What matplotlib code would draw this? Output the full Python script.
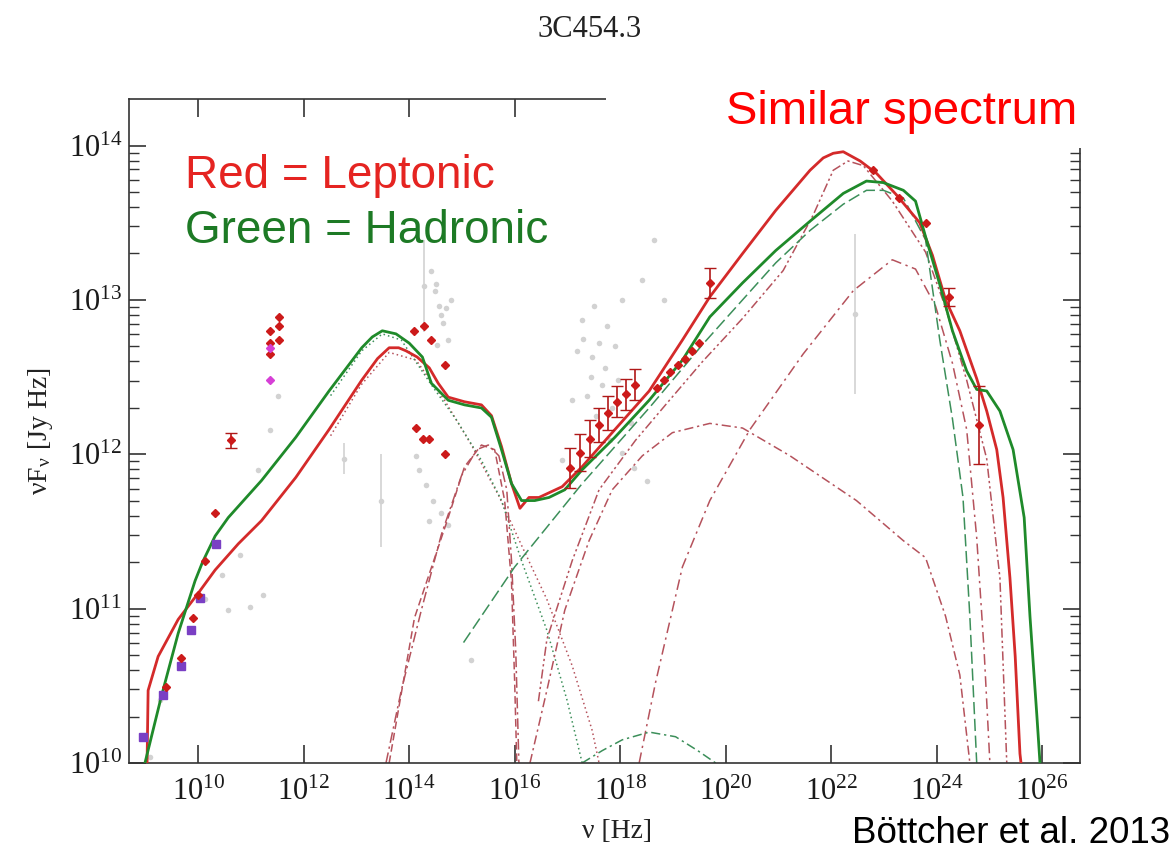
import matplotlib
matplotlib.use("Agg")
import matplotlib.pyplot as plt
import numpy as np
from matplotlib.ticker import FixedLocator, LogLocator, LogFormatterSciNotation, NullFormatter, NullLocator
from matplotlib.patches import Rectangle

plt.rcParams['font.family'] = ['Liberation Serif', 'DejaVu Serif']
plt.rcParams['mathtext.fontset'] = 'stix'

# --- data: log10(nu [Hz]) and log10(nuFnu [Jy Hz]) ---
# total model curves
lep_lx = [9.03, 9.05, 9.24, 9.62, 10.00, 10.32, 10.76, 11.20, 11.85, 12.48, 13.10, 13.40, 13.62,
          13.80, 13.94, 14.15, 14.38, 14.55, 14.74, 15.05, 15.37, 15.56, 15.75, 15.94, 16.10, 16.27,
          16.46, 16.90, 17.28, 17.90, 18.55, 19.18, 19.70, 20.32, 20.95, 21.60, 21.85, 22.04, 22.23,
          22.55, 22.86, 23.24, 23.68, 23.92, 24.17, 24.44, 24.76, 24.95, 25.14, 25.26, 25.39, 25.49,
          25.58, 25.60]
lep_ly = [10.00, 10.47, 10.69, 10.93, 11.10, 11.25, 11.42, 11.57, 11.85, 12.16, 12.48, 12.62, 12.69,
          12.69, 12.67, 12.63, 12.56, 12.46, 12.37, 12.34, 12.32, 12.25, 12.05, 11.81, 11.65, 11.72,
          11.72, 11.79, 11.92, 12.16, 12.41, 12.74, 13.02, 13.30, 13.58, 13.84, 13.92, 13.95, 13.96,
          13.90, 13.82, 13.68, 13.50, 13.29, 13.00, 12.80, 12.49, 12.28, 12.03, 11.72, 11.20, 10.69,
          10.06, 10.00]

had_lx = [8.99, 9.30, 9.62, 9.94, 10.08, 10.32, 10.57, 11.20, 11.85, 12.48, 13.10, 13.30, 13.49,
          13.75, 14.00, 14.25, 14.42, 14.74, 15.05, 15.37, 15.56, 15.75, 15.94, 16.13, 16.38, 16.65,
          16.95, 17.28, 17.90, 18.55, 19.18, 19.70, 20.32, 20.95, 21.60, 22.23, 22.67, 22.99, 23.37,
          23.60, 23.79, 24.06, 24.30, 24.57, 24.76, 24.95, 25.20, 25.45, 25.66, 25.77, 25.90, 25.96]
had_ly = [10.00, 10.43, 10.84, 11.18, 11.30, 11.47, 11.59, 11.83, 12.11, 12.41, 12.69, 12.76, 12.80,
          12.78, 12.72, 12.63, 12.46, 12.35, 12.32, 12.30, 12.24, 12.03, 11.81, 11.70, 11.70, 11.72,
          11.77, 11.90, 12.11, 12.35, 12.61, 12.89, 13.11, 13.32, 13.51, 13.69, 13.77, 13.76, 13.71,
          13.64, 13.41, 13.10, 12.80, 12.54, 12.42, 12.41, 12.28, 12.03, 11.59, 10.95, 10.31, 10.00]

# leptonic components
lsync_lx = [12.51, 13.09, 13.62, 14.13, 14.67, 15.18, 15.70, 16.13, 16.61, 17.09, 17.47, 17.60]
lsync_ly = [12.12, 12.45, 12.66, 12.61, 12.35, 12.06, 11.73, 11.41, 11.06, 10.63, 10.21, 10.00]
disk1_lx = [13.56, 13.85, 14.23, 14.61, 14.99, 15.28, 15.50, 15.70, 15.85, 15.94, 16.02, 16.08]
disk1_ly = [10.00, 10.47, 10.99, 11.48, 11.86, 12.03, 12.06, 11.99, 11.77, 11.31, 10.73, 10.00]
disk2_lx = [13.62, 14.10, 14.74, 15.05, 15.37, 15.62, 15.81, 15.94, 16.00, 16.04]
disk2_ly = [10.00, 10.94, 11.59, 11.92, 12.06, 12.03, 11.70, 11.17, 10.52, 10.00]
ssc_lx = [16.29, 16.61, 16.95, 17.41, 17.85, 18.42, 18.99, 19.70, 20.32, 21.22, 22.48, 23.37,
          23.79, 24.17, 24.44, 24.63]
ssc_ly = [10.00, 10.47, 10.99, 11.44, 11.77, 11.99, 12.14, 12.20, 12.17, 11.99, 11.70, 11.44,
          11.33, 10.95, 10.57, 10.00]
ecd_lx = [18.36, 18.67, 19.18, 19.70, 20.46, 21.47, 22.42, 23.16, 23.60, 23.98, 24.30, 24.57,
          24.76, 24.90, 25.01]
ecd_ly = [10.00, 10.52, 11.27, 11.70, 12.16, 12.65, 13.06, 13.26, 13.20, 12.96, 12.59, 12.16,
          11.46, 10.73, 10.00]
ecb_lx = [16.45, 16.61, 17.09, 17.60, 18.29, 18.86, 19.56, 20.32, 21.09, 21.66, 22.04, 22.32,
          22.61, 23.16, 23.79, 24.17, 24.57, 24.95, 25.20, 25.33]
ecb_ly = [10.40, 10.80, 11.31, 11.77, 12.09, 12.32, 12.60, 12.88, 13.19, 13.55, 13.84, 13.90,
          13.87, 13.64, 13.31, 12.95, 12.48, 11.97, 11.20, 10.00]

# hadronic components
hsync_lx = [12.51, 13.10, 13.49, 13.85, 14.42, 14.90, 15.37, 15.75, 16.13, 16.61, 16.99, 17.28]
hsync_ly = [12.38, 12.67, 12.78, 12.74, 12.45, 12.22, 11.96, 11.70, 11.31, 10.86, 10.41, 10.00]
psync_lx = [15.03, 16.00, 17.28, 18.55, 19.56, 20.32, 20.95, 21.60, 22.23, 22.67, 22.99, 23.37,
            23.79, 24.06, 24.30, 24.50, 24.63, 24.76]
psync_ly = [10.78, 11.27, 11.81, 12.30, 12.71, 13.00, 13.24, 13.45, 13.62, 13.71, 13.71, 13.66,
            13.39, 12.74, 12.23, 11.72, 10.95, 10.00]
hbump_lx = [17.28, 17.66, 18.04, 18.55, 19.05, 19.47, 19.81]
hbump_ly = [10.00, 10.08, 10.15, 10.20, 10.17, 10.08, 10.00]

# observed data
red_lx = [9.39, 9.68, 9.90, 10.00, 10.13, 10.32, 11.37, 11.37, 11.37, 11.54, 11.54, 11.54,
          14.10, 14.29, 14.42, 14.67, 14.13, 14.27, 14.38, 14.67,
          18.70, 18.84, 18.95, 19.09, 19.22, 19.37, 19.50, 22.80, 23.28, 23.79]
red_ly = [10.49, 10.68, 10.94, 11.09, 11.31, 11.62, 12.80, 12.72, 12.65, 12.89, 12.83, 12.74,
          12.80, 12.83, 12.74, 12.58, 12.17, 12.10, 12.10, 12.00,
          12.43, 12.48, 12.53, 12.58, 12.62, 12.67, 12.72, 13.84, 13.66, 13.50]
rerr_lx = [10.63, 17.05, 17.24, 17.43, 17.60, 17.77, 17.94, 18.11, 18.29, 19.70, 24.23, 24.80]
rerr_ly = [12.09, 11.91, 12.01, 12.10, 12.19, 12.27, 12.34, 12.39, 12.45, 13.11, 13.02, 12.19]
rerr_dy = [0.05, 0.13, 0.12, 0.12, 0.11, 0.11, 0.10, 0.10, 0.10, 0.10, 0.06, 0.25]
purple_lx = [8.95, 9.33, 9.68, 9.87, 10.04, 10.34]
purple_ly = [10.17, 10.44, 10.63, 10.86, 11.07, 11.42]
magenta_lx = [11.37, 11.37]
magenta_ly = [12.69, 12.48]

gray_lx = [9.09, 9.28, 10.13, 10.46, 10.80, 10.57, 10.99, 11.22, 11.14, 11.37, 11.52,
           14.42, 14.48, 14.57, 14.65, 14.74, 14.53, 14.80, 14.19, 14.32, 14.46, 14.61, 14.74,
           14.38, 14.13, 17.28, 17.50, 17.75, 18.04, 18.42, 18.65, 18.84, 17.18, 17.47, 17.71,
           17.09, 17.37, 17.81, 18.04, 18.27, 18.51, 16.90, 15.18, 17.30, 17.60, 17.90, 17.45,
           17.65, 17.95, 18.20, 17.55, 17.85, 14.50, 14.60, 14.70]
gray_ly = [10.04, 10.41, 11.06, 11.22, 11.35, 10.99, 11.01, 11.09, 11.90, 12.16, 12.38,
           13.19, 13.06, 12.96, 12.85, 12.74, 12.71, 13.00, 11.90, 11.80, 11.70, 11.62, 11.54,
           11.57, 11.99, 12.87, 12.96, 12.83, 13.00, 13.13, 13.39, 13.00, 12.67, 12.63, 12.56,
           12.35, 12.38, 12.09, 12.01, 11.91, 11.83, 11.96, 10.67, 12.75, 12.72, 12.70, 12.50,
           12.45, 12.48, 12.20, 12.25, 12.30, 13.10, 12.90, 12.95]
gerr_lx = [12.76, 13.47, 14.29, 22.46]
gerr_ly = [11.97, 11.70, 13.09, 12.91]
gerr_dy = [0.10, 0.30, 0.30, 0.52]

x_major = [10, 12, 14, 16, 18, 20, 22, 24, 26]
y_major = [10, 11, 12, 13, 14]


def p(v):
    return 10.0 ** np.asarray(v)


LEP_C = '#b5525c'
HAD_C = '#3c8f5a'

fig = plt.figure(figsize=(11.74, 8.52), dpi=100)
ax = fig.add_axes([0.110, 0.1045, 0.810, 0.779])
ax.set_xscale('log')
ax.set_yscale('log')

# archival data in gray
ax.plot(p(gray_lx), p(gray_ly), 'o', ms=4, color='#d2d2d2', mec='none', zorder=1)
ax.errorbar(p(gerr_lx), p(gerr_ly),
            yerr=[p(gerr_ly) - p(np.array(gerr_ly) - np.array(gerr_dy)),
                  p(np.array(gerr_ly) + np.array(gerr_dy)) - p(gerr_ly)],
            fmt='o', ms=3, color='#d2d2d2', elinewidth=1.2, capsize=0, zorder=1)

# model components
ax.plot(p(lsync_lx), p(lsync_ly), color=LEP_C, lw=1.1, ls=(0, (1, 2)))
ax.plot(p(hsync_lx), p(hsync_ly), color=HAD_C, lw=1.1, ls=(0, (1, 2)))
ax.plot(p(disk1_lx), p(disk1_ly), color=LEP_C, lw=1.1, ls=(0, (7, 2.5, 1.5, 2.5)))
ax.plot(p(disk2_lx), p(disk2_ly), color=LEP_C, lw=1.1, ls=(0, (5, 2.5)))
ax.plot(p(ssc_lx), p(ssc_ly), color=LEP_C, lw=1.1, ls=(0, (6, 2.5, 1.5, 2.5)))
ax.plot(p(ecd_lx), p(ecd_ly), color=LEP_C, lw=1.1, ls=(0, (7, 3, 1.5, 3)))
ax.plot(p(ecb_lx), p(ecb_ly), color=LEP_C, lw=1.1, ls=(0, (6, 2, 1.5, 2, 1.5, 2)))
ax.plot(p(psync_lx), p(psync_ly), color=HAD_C, lw=1.1, ls=(0, (8, 3)))
ax.plot(p(hbump_lx), p(hbump_ly), color=HAD_C, lw=1.1, ls=(0, (6, 2.5, 1.5, 2.5)))

# total models
ax.plot(p(lep_lx), p(lep_ly), color='#d42a2a', lw=2.0, zorder=4)
ax.plot(p(had_lx), p(had_ly), color='#1f8a2a', lw=2.0, zorder=4)

# observed data
ax.plot(p(purple_lx), p(purple_ly), 's', ms=6, color='#7a3fc4', zorder=5)
ax.plot(p(red_lx), p(red_ly), 'D', ms=4.5, color='#cc1a1a', zorder=5)
ax.plot(p(magenta_lx), p(magenta_ly), 'D', ms=4.5, color='#d63fd6', zorder=5)
ax.errorbar(p(rerr_lx), p(rerr_ly),
            yerr=[p(rerr_ly) - p(np.array(rerr_ly) - np.array(rerr_dy)),
                  p(np.array(rerr_ly) + np.array(rerr_dy)) - p(rerr_ly)],
            fmt='D', ms=4.5, color='#cc1a1a', ecolor='#b01818', elinewidth=1.2,
            capsize=4, zorder=5)

ax.set_xlim(10 ** 8.69, 10 ** 26.72)
ax.set_ylim(1e10, 10 ** 14.30)

ax.xaxis.set_major_locator(FixedLocator(p(x_major)))
ax.xaxis.set_minor_locator(NullLocator())
ax.xaxis.set_major_formatter(LogFormatterSciNotation())
ax.yaxis.set_major_locator(FixedLocator(p(y_major)))
ax.yaxis.set_minor_locator(LogLocator(base=10, subs=np.arange(2, 10), numticks=20))
ax.yaxis.set_major_formatter(LogFormatterSciNotation())
ax.yaxis.set_minor_formatter(NullFormatter())

ax.tick_params(which='both', direction='in', top=True, right=True, colors='#333333',
               labelcolor='#1a1a1a', labelsize=22)
ax.tick_params(axis='x', which='major', length=13, width=1.2, pad=11)
ax.tick_params(axis='y', which='major', length=12, width=1.2, pad=5)
ax.tick_params(axis='y', which='minor', length=7, width=1.0)
for s in ax.spines.values():
    s.set_color('#333333')
    s.set_linewidth(1.2)

ax.set_xlabel('ν [Hz]', fontsize=20, color='#222222')
ax.xaxis.set_label_coords(0.513, -0.084)
ax.set_ylabel('νF$_{\\mathregular{ν}}$ [Jy Hz]', fontsize=20, color='#222222')
ax.yaxis.set_label_coords(-0.078, 0.50)

fig.text(0.5026, 0.965, '3C454.3', fontsize=22, ha='center', va='center', color='#222222')

# white patch hiding the frame behind the headline
fig.add_artist(Rectangle((0.516, 0.826), 0.484, 0.073, transform=fig.transFigure,
                         facecolor='white', edgecolor='none', zorder=2))

sans = ['Liberation Sans', 'DejaVu Sans']
fig.text(0.768, 0.868, 'Similar spectrum', fontsize=34, color='#ff0000', family=sans,
         ha='center', va='center', zorder=3)
ax.text(0.0590, 0.884, 'Red = Leptonic', transform=ax.transAxes, fontsize=33,
        color='#e52421', family=sans, ha='left', va='center')
ax.text(0.0590, 0.801, 'Green = Hadronic', transform=ax.transAxes, fontsize=33,
        color='#1d7a25', family=sans, ha='left', va='center')
fig.text(0.9966, 0.022, 'Böttcher et al. 2013', fontsize=26.5, color='black', family=sans,
         ha='right', va='center')

fig.savefig('out.png', dpi=100)
